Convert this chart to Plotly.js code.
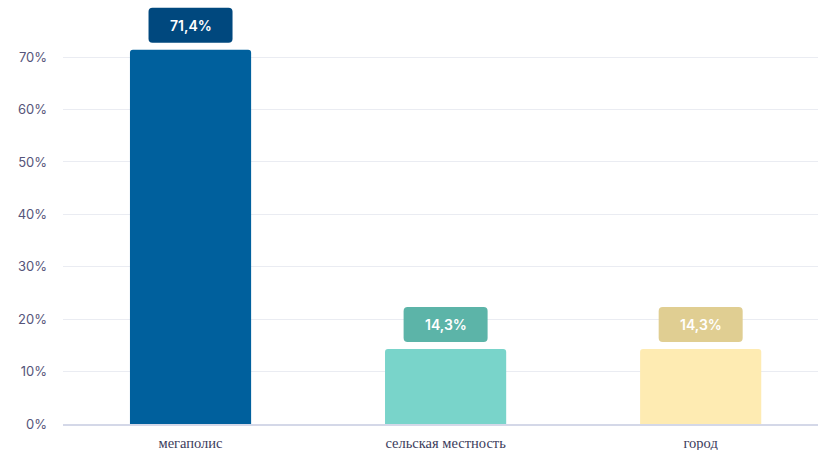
<!DOCTYPE html>
<html>
<head>
<meta charset="utf-8">
<script src="https://cdn.plot.ly/plotly-3.0.1.min.js"></script>
<style>html,body{margin:0;padding:0;background:#fff;}#chart{width:818px;height:450px;}</style>
</head>
<body>
<div id="chart"></div>
<script>
const categories = ["мегаполис", "сельская местность", "город"];
const values = [71.4, 14.3, 14.3];
const labels = ["71,4%", "14,3%", "14,3%"];
const barColors = ["#00609d", "#79d4ca", "#feebb2"];
const labelColors = ["#00487e", "#5cb4a8", "#e0ce92"];
const yTicks = [0, 10, 20, 30, 40, 50, 60, 70];

function roundedRect(x0, y0, x1, y1, r) {
  return `M${x0 + r},${y0} L${x1 - r},${y0} Q${x1},${y0} ${x1},${y0 + r} ` +
         `L${x1},${y1 - r} Q${x1},${y1} ${x1 - r},${y1} L${x0 + r},${y1} ` +
         `Q${x0},${y1} ${x0},${y1 - r} L${x0},${y0 + r} Q${x0},${y0} ${x0 + r},${y0} Z`;
}

const shapes = categories.map((c, i) => ({
  type: 'path',
  xref: 'x', yref: 'y',
  xsizemode: 'pixel', ysizemode: 'pixel',
  xanchor: c, yanchor: values[i],
  path: roundedRect(-42, 7, 42, 42, 4),
  fillcolor: labelColors[i],
  line: {width: 0},
  layer: 'above'
}));

const annotations = categories.map((c, i) => ({
  x: c, y: values[i], xref: 'x', yref: 'y',
  text: labels[i], showarrow: false,
  yshift: 24.5, yanchor: 'middle', xanchor: 'center',
  font: {family: 'Inter, "Open Sans", sans-serif', size: 14, color: '#ffffff', weight: 600}
}));

const trace = {
  type: 'bar',
  x: categories,
  y: values,
  width: 0.475,
  marker: {color: barColors, cornerradius: 3, line: {width: 0}},
  hoverinfo: 'none'
};

const layout = {
  width: 818, height: 450,
  margin: {l: 63, r: 0, t: 0, b: 26},
  paper_bgcolor: '#ffffff', plot_bgcolor: '#ffffff',
  showlegend: false,
  xaxis: {
    type: 'category',
    range: [-0.5, 2.46],
    showgrid: false, zeroline: false,
    showline: true, linecolor: '#d4d8e8', linewidth: 1.5,
    ticks: '',
    tickfont: {family: '"Liberation Serif", "DejaVu Serif", serif', size: 14.5, color: '#3c3c5c'},
    ticklabelstandoff: 5
  },
  yaxis: {
    range: [0, 80.9],
    tickvals: yTicks,
    ticktext: yTicks.map(v => v + '%'),
    showgrid: true, gridcolor: '#eaecf2', gridwidth: 1,
    zeroline: false, showline: false, ticks: '',
    tickfont: {family: 'Inter, "Open Sans", sans-serif', size: 13, color: '#55557a'},
    ticklabelstandoff: 15
  },
  shapes: shapes,
  annotations: annotations
};

Plotly.newPlot('chart', [trace], layout, {displayModeBar: false, staticPlot: true});
</script>
</body>
</html>
